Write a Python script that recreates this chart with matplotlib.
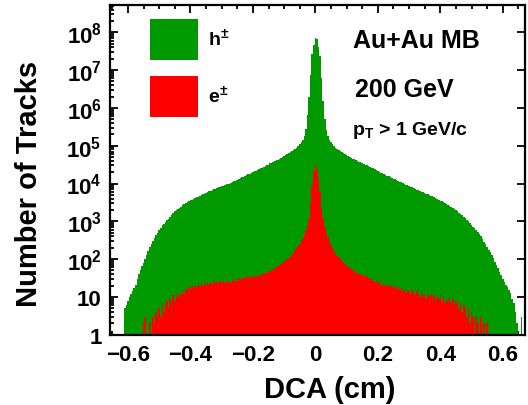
"""
Distribución de DCA para trazas h± y e± en Au+Au 200 GeV (MB), pT > 1 GeV/c
"""
import numpy as np
import matplotlib.pyplot as plt
from matplotlib.patches import Patch
from matplotlib.ticker import MultipleLocator, LogLocator, FuncFormatter

plt.rcParams['font.family'] = 'Liberation Sans'
plt.rcParams['font.weight'] = 'bold'
plt.rcParams['mathtext.fontset'] = 'custom'
plt.rcParams['mathtext.rm'] = 'Liberation Sans:bold'
plt.rcParams['mathtext.bf'] = 'Liberation Sans:bold'
plt.rcParams['mathtext.it'] = 'Liberation Sans:bold'

# Binning: 266 bins de 0.005 cm, centrados en 0
bordes = np.linspace(-0.6575, 0.6725, 267)

# Número de trazas por bin - hadrones cargados
conteos_h = [
    0, 0, 0, 0, 0, 0, 0, 0, 0, 5,
    6, 8, 10, 12, 14, 17, 21, 30, 41, 51,
    65, 79, 102, 132, 166, 209, 251, 302, 363, 427,
    501, 575, 661, 776, 871, 977, 1070, 1170, 1320, 1510,
    1660, 1820, 2000, 2140, 2290, 2450, 2630, 2820, 3020, 3240,
    3390, 3590, 3760, 3940, 4120, 4320, 4520, 4730, 4950, 5190,
    5430, 5690, 5960, 6170, 6460, 6760, 7000, 7240, 7590, 7850,
    8130, 8510, 8810, 9120, 9440, 9770, 10000, 10500, 11000, 11500,
    12000, 12600, 13200, 13800, 14500, 15100, 15800, 16600, 17400, 18200,
    19100, 20000, 20900, 21900, 22900, 24000, 25100, 26300, 27500, 28800,
    30200, 31600, 33900, 35500, 37200, 38900, 40700, 42700, 45700, 47900,
    50100, 53100, 56200, 60300, 63100, 67600, 72400, 77600, 83200, 89100,
    97700, 112000, 126000, 145000, 186000, 282000, 631000, 2.0e6, 7.4e6, 2.6e7,
    4.7e7, 6.9e7, 6.6e7, 4.1e7, 2.4e7, 6.3e6, 1.5e6, 501000, 263000, 178000,
    141000, 123000, 110000, 97700, 89100, 83200, 77600, 72400, 67600, 63100,
    60300, 56900, 53700, 50700, 47900, 45700, 43700, 41700, 39800, 38000,
    36300, 34700, 33100, 31600, 30200, 28800, 27500, 26300, 25100, 24000,
    22900, 21400, 20400, 19500, 18600, 17800, 17000, 16200, 15500, 14800,
    14100, 13500, 12900, 12300, 11700, 11200, 10700, 10200, 9770, 9330,
    8910, 8510, 8130, 7850, 7590, 7240, 6920, 6610, 6310, 6100,
    5890, 5620, 5370, 5130, 4950, 4790, 4570, 4370, 4170, 3980,
    3760, 3550, 3390, 3160, 3020, 2820, 2690, 2510, 2400, 2240,
    2090, 1950, 1820, 1700, 1580, 1450, 1320, 1200, 1100, 1000,
    912, 813, 724, 646, 575, 513, 457, 398, 339, 288,
    245, 209, 178, 151, 126, 105, 85, 71, 58, 47,
    38, 30, 25, 21, 18, 15, 13, 9, 7, 4,
    2, 0, 0, 3, 0, 0,
]

# Número de trazas por bin - electrones
conteos_e = [
    0, 0, 0, 0, 0, 0, 0, 0, 0, 0,
    0, 0, 0, 0, 0, 0, 0, 0, 0, 0,
    0, 2, 3, 0, 1, 2, 0, 3, 2, 4,
    3, 5, 3, 7, 4, 6, 8, 5, 9, 7,
    11, 8, 12, 10, 13, 11, 15, 12, 16, 14,
    18, 15, 19, 16, 20, 17, 21, 19, 23, 20,
    24, 21, 25, 22, 24, 21, 26, 23, 25, 22,
    27, 24, 26, 23, 28, 25, 27, 24, 30, 26,
    29, 27, 31, 28, 32, 29, 33, 30, 35, 31,
    36, 33, 37, 34, 39, 36, 41, 38, 43, 40,
    45, 43, 48, 50, 53, 57, 61, 65, 70, 75,
    82, 85, 90, 99, 108, 119, 131, 146, 172, 198,
    222, 255, 305, 360, 430, 575, 740, 1120, 2950, 9300,
    21000, 34000, 24000, 13000, 6000, 2300, 1230, 700, 480, 380,
    295, 240, 195, 160, 135, 123, 112, 100, 91, 83,
    76, 69, 63, 59, 55, 50, 48, 44, 46, 41,
    38, 40, 35, 33, 36, 31, 29, 32, 27, 25,
    28, 23, 26, 21, 24, 20, 22, 19, 21, 18,
    20, 17, 19, 16, 18, 15, 17, 14, 16, 13,
    15, 14, 12, 15, 13, 11, 14, 12, 10, 13,
    11, 12, 9, 11, 10, 12, 9, 11, 8, 10,
    9, 11, 8, 10, 7, 9, 8, 10, 7, 9,
    6, 8, 7, 5, 7, 4, 6, 5, 3, 5,
    2, 4, 3, 1, 3, 2, 0, 3, 1, 2,
    0, 2, 1, 0, 0, 0, 0, 0, 0, 0,
    0, 0, 0, 0, 0, 0, 0, 0, 0, 0,
    0, 0, 0, 0, 0, 0,
]

etiquetas = [r'h$^{\pm}$', r'e$^{\pm}$']
verde = '#009900'
rojo = '#ff0000'

fig = plt.figure(figsize=(5.28, 4.06), dpi=100)
ax = fig.add_axes([0.2083, 0.1731, 0.786, 0.8129])

# bins vacíos no se dibujan en escala log
base = 0.1
ax.stairs(np.maximum(conteos_h, base), bordes, baseline=base, fill=True,
          color=verde, linewidth=0)
ax.stairs(np.maximum(conteos_e, base), bordes, baseline=base, fill=True,
          color=rojo, linewidth=0)

ax.set_yscale('log')
ax.set_xlim(-0.6575, 0.671)
ax.set_ylim(1, 10**8.73)

# Ejes estilo ROOT: ticks hacia dentro y en los cuatro lados
ax.set_axisbelow(True)
ax.xaxis.set_major_locator(MultipleLocator(0.2))
ax.xaxis.set_minor_locator(MultipleLocator(0.05))
ax.yaxis.set_major_locator(LogLocator(base=10, numticks=20))
ax.yaxis.set_minor_locator(LogLocator(base=10, subs=np.arange(2, 10), numticks=20))


def fmt_x(v, pos):
    if abs(v) < 1e-9:
        return '0'
    return f'{v:.1f}'.replace('-', '\u2212')


def fmt_y(v, pos):
    exp = int(round(np.log10(v)))
    if exp == 0:
        return '1'
    if exp == 1:
        return '10'
    return r'$10^{%d}$' % exp


ax.xaxis.set_major_formatter(FuncFormatter(fmt_x))
ax.yaxis.set_major_formatter(FuncFormatter(fmt_y))
ax.yaxis.set_minor_formatter(FuncFormatter(lambda v, p: ''))

ax.tick_params(which='both', direction='in', top=True, right=True, width=1.3,
               labelsize=16)
ax.tick_params(which='major', length=6)
ax.tick_params(which='minor', length=3)
ax.tick_params(axis='y', which='minor', right=False)
ax.tick_params(axis='x', pad=7)
ax.tick_params(axis='y', pad=6)
for s in ax.spines.values():
    s.set_linewidth(1.6)

ax.set_xlabel('DCA (cm)', fontsize=21, fontweight='bold')
ax.set_ylabel('Number of Tracks', fontsize=21, fontweight='bold')
ax.xaxis.set_label_coords(0.53, -0.122)
ax.yaxis.set_label_coords(-0.162, 0.46)

# Leyenda con cajas rellenas
handles = [Patch(facecolor=verde, edgecolor='none', label=etiquetas[0]),
           Patch(facecolor=rojo, edgecolor='none', label=etiquetas[1])]
ax.legend(handles=handles, loc='upper left', bbox_to_anchor=(0.096, 0.957),
          frameon=False, borderpad=0, borderaxespad=0, handlelength=2.47,
          handleheight=2.87, labelspacing=0.81, handletextpad=0.52,
          prop={'size': 14, 'weight': 'bold'})

ax.text(0.586, 0.893, 'Au+Au MB', transform=ax.transAxes, fontsize=18,
        fontweight='bold', va='center', ha='left')
ax.text(0.590, 0.745, '200 GeV', transform=ax.transAxes, fontsize=18,
        fontweight='bold', va='center', ha='left')
ax.text(0.583, 0.623, r'p$_{T}$ > 1 GeV/c', transform=ax.transAxes,
        fontsize=14, fontweight='bold', va='center', ha='left')

plt.savefig('out.png', dpi=100)
plt.close()
